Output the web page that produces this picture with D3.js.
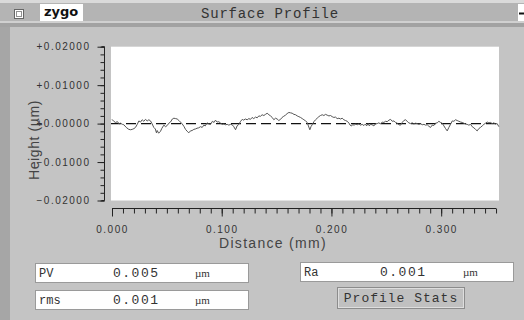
<!DOCTYPE html>
<html>
<head>
<meta charset="utf-8">
<script src="https://cdn.jsdelivr.net/npm/d3@7"></script>
<style>
  body { margin: 0; background: #c4c4c4; }
  svg { display: block; }
  .tick text { font-family: "Liberation Sans", Arial, sans-serif; font-size: 10px; letter-spacing: 1.5px; fill: #333; }
  .mono { font-family: "Liberation Mono", "Courier New", monospace; fill: #333; }
</style>
</head>
<body>
<svg id="chart" width="524" height="320"></svg>
<script>
// profile trace (mm, µm)
const distance = [
  0.0000, 0.0016, 0.0032, 0.0050, 0.0065, 0.0077, 0.0095, 0.0108, 0.0130, 0.0153,
  0.0170, 0.0184, 0.0200, 0.0214, 0.0230, 0.0245, 0.0260, 0.0275, 0.0290, 0.0305,
  0.0321, 0.0336, 0.0351, 0.0366, 0.0381, 0.0395, 0.0405, 0.0412, 0.0425, 0.0442,
  0.0455, 0.0473, 0.0488, 0.0503, 0.0518, 0.0533, 0.0550, 0.0564, 0.0580, 0.0594,
  0.0610, 0.0624, 0.0640, 0.0655, 0.0670, 0.0685, 0.0700, 0.0715, 0.0730, 0.0746,
  0.0760, 0.0775, 0.0790, 0.0807, 0.0822, 0.0837, 0.0850, 0.0867, 0.0882, 0.0898,
  0.0915, 0.0930, 0.0943, 0.0958, 0.0974, 0.0990, 0.1004, 0.1020, 0.1035, 0.1050,
  0.1065, 0.1080, 0.1095, 0.1110, 0.1126, 0.1140, 0.1156, 0.1172, 0.1187, 0.1200,
  0.1215, 0.1232, 0.1247, 0.1262, 0.1277, 0.1292, 0.1308, 0.1323, 0.1338, 0.1353,
  0.1368, 0.1384, 0.1399, 0.1414, 0.1430, 0.1445, 0.1460, 0.1475, 0.1490, 0.1505,
  0.1520, 0.1536, 0.1550, 0.1565, 0.1581, 0.1596, 0.1612, 0.1627, 0.1642, 0.1658,
  0.1673, 0.1688, 0.1703, 0.1718, 0.1734, 0.1749, 0.1764, 0.1779, 0.1790, 0.1803,
  0.1815, 0.1825, 0.1840, 0.1855, 0.1870, 0.1885, 0.1900, 0.1916, 0.1931, 0.1946,
  0.1961, 0.1977, 0.1992, 0.2007, 0.2022, 0.2037, 0.2052, 0.2068, 0.2083, 0.2098,
  0.2113, 0.2128, 0.2144, 0.2160, 0.2170, 0.2180, 0.2195, 0.2210, 0.2220, 0.2235,
  0.2250, 0.2265, 0.2280, 0.2296, 0.2310, 0.2320, 0.2335, 0.2345, 0.2356, 0.2370,
  0.2387, 0.2400, 0.2417, 0.2432, 0.2447, 0.2463, 0.2478, 0.2493, 0.2508, 0.2524,
  0.2539, 0.2554, 0.2570, 0.2584, 0.2600, 0.2615, 0.2630, 0.2645, 0.2660, 0.2675,
  0.2690, 0.2705, 0.2721, 0.2736, 0.2751, 0.2767, 0.2782, 0.2797, 0.2812, 0.2827,
  0.2843, 0.2858, 0.2873, 0.2888, 0.2903, 0.2918, 0.2933, 0.2948, 0.2964, 0.2979,
  0.2994, 0.3010, 0.3025, 0.3040, 0.3055, 0.3070, 0.3085, 0.3101, 0.3116, 0.3131,
  0.3146, 0.3161, 0.3177, 0.3192, 0.3207, 0.3222, 0.3237, 0.3252, 0.3268, 0.3283,
  0.3298, 0.3313, 0.3328, 0.3343, 0.3358, 0.3374, 0.3389, 0.3404, 0.3420, 0.3435,
  0.3450, 0.3465, 0.3480, 0.3495, 0.3510, 0.3526
];
const height = [
  0.0011, 0.0006, 0.0003, 0.0005, -0.0001, 0.0001, -0.0002, -0.0003, -0.0010, -0.0015,
  -0.0016, -0.0015, -0.0013, -0.0010, -0.0002, 0.0007, 0.0004, 0.0010, 0.0006, 0.0011,
  0.0007, 0.0010, 0.0007, -0.0001, -0.0010, -0.0014, -0.0024, -0.0018, -0.0025, -0.0020,
  -0.0012, -0.0004, -0.0008, -0.0005, 0.0001, 0.0004, 0.0012, 0.0014, 0.0013, 0.0012,
  0.0008, 0.0004, -0.0001, -0.0007, -0.0015, -0.0020, -0.0024, -0.0019, -0.0018, -0.0015,
  -0.0014, -0.0012, -0.0011, -0.0008, -0.0010, -0.0004, -0.0006, 0.0002, -0.0001, -0.0002,
  0.0006, 0.0003, 0.0009, 0.0004, 0.0005, 0.0001, -0.0002, -0.0001, -0.0003, -0.0002,
  -0.0004, -0.0002, -0.0003, -0.0008, -0.0016, -0.0006, -0.0002, 0.0006, 0.0011, 0.0009,
  0.0012, 0.0010, 0.0013, 0.0011, 0.0016, 0.0013, 0.0017, 0.0015, 0.0020, 0.0019,
  0.0023, 0.0021, 0.0024, 0.0027, 0.0023, 0.0020, 0.0016, 0.0010, 0.0014, 0.0012,
  0.0008, 0.0011, 0.0016, 0.0019, 0.0022, 0.0026, 0.0029, 0.0028, 0.0027, 0.0024,
  0.0023, 0.0020, 0.0018, 0.0016, 0.0013, 0.0010, 0.0007, 0.0003, -0.0006, -0.0016,
  -0.0007, -0.0003, 0.0005, 0.0010, 0.0014, 0.0018, 0.0021, 0.0023, 0.0021, 0.0024,
  0.0022, 0.0020, 0.0021, 0.0018, 0.0016, 0.0017, 0.0013, 0.0014, 0.0012, 0.0014,
  0.0010, 0.0008, 0.0006, 0.0001, -0.0004, -0.0006, -0.0003, -0.0004, -0.0001, -0.0003,
  -0.0001, -0.0004, -0.0002, -0.0005, -0.0001, -0.0006, 0.0000, -0.0006, -0.0002, -0.0003,
  -0.0006, -0.0001, 0.0000, 0.0002, -0.0001, 0.0004, 0.0003, 0.0006, 0.0005, 0.0009,
  0.0011, 0.0006, 0.0007, 0.0003, 0.0001, -0.0003, -0.0004, 0.0003, 0.0008, 0.0010,
  0.0006, 0.0002, 0.0000, 0.0002, -0.0001, 0.0001, 0.0000, -0.0002, 0.0000, -0.0003,
  -0.0002, -0.0004, -0.0003, -0.0007, -0.0010, -0.0004, -0.0005, 0.0001, 0.0002, 0.0006,
  0.0003, 0.0001, -0.0006, -0.0013, -0.0019, -0.0010, -0.0002, 0.0007, 0.0006, 0.0010,
  0.0008, 0.0006, 0.0004, 0.0003, 0.0001, -0.0001, -0.0002, -0.0004, -0.0002, -0.0008,
  -0.0011, -0.0015, -0.0019, -0.0013, -0.0010, -0.0006, -0.0002, 0.0001, 0.0004, 0.0002,
  0.0003, 0.0000, 0.0002, -0.0001, 0.0000, -0.0008
];
const yTickValues = [0.02, 0.01, 0, -0.01, -0.02];
const xTickValues = [0, 0.1, 0.2, 0.3];
const statLabels = ['PV', 'rms', 'Ra'];
const statValues = ['0.005', '0.001', '0.001'];
const statUnit = 'µm';

const svg = d3.select('#chart');

// window chrome
svg.append('rect').attr('x', 0).attr('y', 0).attr('width', 524).attr('height', 320).attr('fill', '#c4c4c4');
svg.append('rect').attr('x', 0).attr('y', 0).attr('width', 524).attr('height', 3).attr('fill', '#dadada');
svg.append('rect').attr('x', 0).attr('y', 3).attr('width', 524).attr('height', 18).attr('fill', '#b4b4b4');
svg.append('rect').attr('x', 0).attr('y', 21).attr('width', 524).attr('height', 2).attr('fill', '#d0d0d0');
svg.append('rect').attr('x', 0).attr('y', 23).attr('width', 524).attr('height', 4).attr('fill', '#a2a2a2');
svg.append('rect').attr('x', 0).attr('y', 27).attr('width', 10).attr('height', 293).attr('fill', '#a6a6a6');

// close box
svg.append('rect').attr('x', 14.5).attr('y', 9.5).attr('width', 9).attr('height', 9).attr('fill', '#fff').attr('stroke', '#666');
svg.append('rect').attr('x', 16.5).attr('y', 11.5).attr('width', 5).attr('height', 5).attr('fill', 'none').attr('stroke', '#222').attr('stroke-dasharray', '1,1');
// zygo label
svg.append('rect').attr('x', 40).attr('y', 4).attr('width', 43).attr('height', 17).attr('fill', '#fff');
svg.append('text').attr('x', 44).attr('y', 16)
  .attr('font-family', 'DejaVu Sans, sans-serif').attr('font-weight', 'bold').attr('font-size', 13)
  .attr('fill', '#111').text('zygo');
// title
svg.append('text').attr('class', 'mono').attr('x', 270).attr('y', 18)
  .attr('text-anchor', 'middle').attr('font-size', 14).attr('letter-spacing', 0.8)
  .text('Surface Profile');
// right button
svg.append('rect').attr('x', 518).attr('y', 4).attr('width', 6).attr('height', 17).attr('fill', '#fff');
svg.append('line').attr('x1', 519).attr('x2', 524).attr('y1', 13.5).attr('y2', 13.5).attr('stroke', '#111').attr('stroke-width', 2);

// scales
const x = d3.scaleLinear().domain([0, 0.3527]).range([112, 499]);
const y = d3.scaleLinear().domain([-0.02, 0.02]).range([200.5, 46.7]);

// plot area
svg.append('rect')
  .attr('x', 111).attr('y', y(0.02))
  .attr('width', 388).attr('height', y(-0.02) - y(0.02))
  .attr('fill', '#fff');

// y axis
const yMinor = svg.append('g').attr('transform', 'translate(104.5,0)')
  .call(d3.axisLeft(y).tickValues(y.ticks(20)).tickSize(4).tickFormat(''));
const yMajor = svg.append('g').attr('transform', 'translate(104.5,0)')
  .call(d3.axisLeft(y).tickValues(yTickValues).tickSize(7).tickPadding(7).tickFormat(d3.format('+.5f')));
yMinor.select('.domain').remove();
yMajor.select('.domain').attr('d', `M-3,${y(0.02)}H0V${y(-0.02)}H-3`).attr('stroke', '#222');
svg.selectAll('.tick line').attr('stroke', '#222');

// x axis
const xAxisY = 208.5;
svg.append('g').attr('transform', `translate(0,${xAxisY})`)
  .call(d3.axisBottom(x).tickValues(x.ticks(35)).tickSize(5).tickFormat(''))
  .select('.domain').remove();
const xMajor = svg.append('g').attr('transform', `translate(0,${xAxisY})`)
  .call(d3.axisBottom(x).tickValues(xTickValues).tickSize(8).tickPadding(9).tickFormat(d3.format('.3f')));
xMajor.select('.domain').attr('d', `M${x(0)},0H${x(0.35)}`).attr('stroke', '#222');
svg.selectAll('.tick line').attr('stroke', '#222');

// axis titles
svg.append('text')
  .attr('transform', 'translate(39,140) rotate(-90)')
  .attr('text-anchor', 'middle')
  .attr('font-family', 'Liberation Sans, Arial, sans-serif').attr('font-size', 14)
  .attr('letter-spacing', 0.6).attr('fill', '#444')
  .text('Height (µm)');
svg.append('text')
  .attr('x', 273).attr('y', 248)
  .attr('text-anchor', 'middle')
  .attr('font-family', 'Liberation Sans, Arial, sans-serif').attr('font-size', 14)
  .attr('letter-spacing', 1.3).attr('fill', '#444')
  .text('Distance (mm)');

// zero reference line
svg.append('line')
  .attr('x1', 111).attr('x2', 499)
  .attr('y1', y(0)).attr('y2', y(0))
  .attr('stroke', '#111').attr('stroke-width', 1.3)
  .attr('stroke-dasharray', '10,5');

// profile trace
const line = d3.line()
  .x((d, i) => x(distance[i]))
  .y(d => y(d));
svg.append('path')
  .datum(height)
  .attr('d', line)
  .attr('fill', 'none')
  .attr('stroke', '#555')
  .attr('stroke-width', 1);

// stat boxes
const boxes = [
  { x: 35, y: 263, valueX: 113, unitX: 195 },
  { x: 35, y: 290, valueX: 113, unitX: 195 },
  { x: 300, y: 262, valueX: 380, unitX: 463 }
];
boxes.forEach((b, i) => {
  svg.append('rect').attr('x', b.x + 0.5).attr('y', b.y + 0.5)
    .attr('width', 213).attr('height', 19)
    .attr('fill', '#fff').attr('stroke', '#9a9a9a');
  svg.append('text').attr('class', 'mono').attr('x', b.x + 4).attr('y', b.y + 14)
    .attr('font-size', 12).text(statLabels[i]);
  svg.append('text').attr('class', 'mono').attr('x', b.valueX).attr('y', b.y + 14)
    .attr('font-size', 13).attr('letter-spacing', 1.5).text(statValues[i]);
  svg.append('text').attr('x', b.unitX).attr('y', b.y + 14)
    .attr('font-family', 'Liberation Serif, serif').attr('font-size', 11).attr('fill', '#333')
    .text(statUnit);
});

// Profile Stats button
svg.append('rect').attr('x', 337.5).attr('y', 287.5).attr('width', 127).attr('height', 21)
  .attr('fill', '#c0c0c0').attr('stroke', '#8c8c8c');
svg.append('rect').attr('x', 338.5).attr('y', 288.5).attr('width', 125).attr('height', 19)
  .attr('fill', 'none').attr('stroke', '#dedede');
svg.append('text').attr('class', 'mono').attr('x', 401).attr('y', 302)
  .attr('text-anchor', 'middle').attr('font-size', 13).attr('letter-spacing', 1)
  .text('Profile Stats');
</script>
</body>
</html>
